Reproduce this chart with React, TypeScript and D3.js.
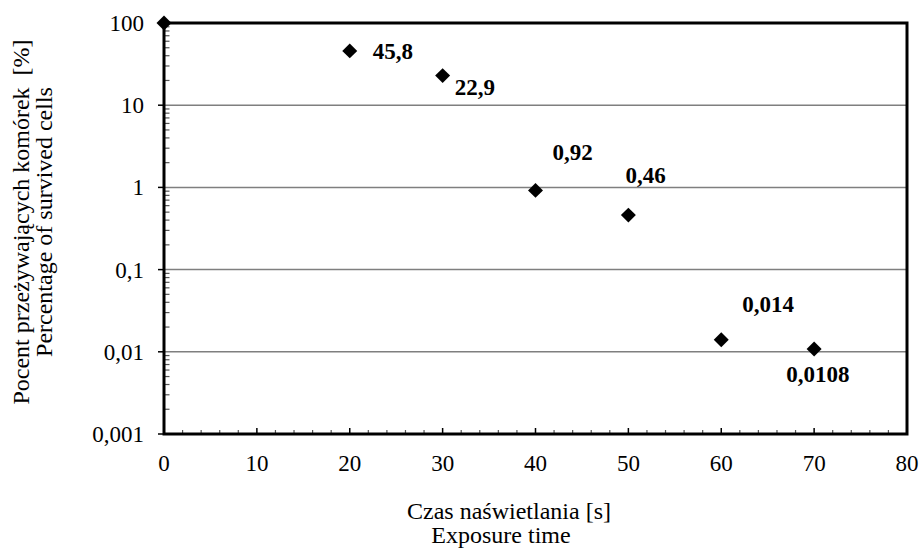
import React from "react";
import * as d3 from "d3";

const times = [0, 20, 30, 40, 50, 60, 70];
const survival = [100, 45.8, 22.9, 0.92, 0.46, 0.014, 0.0108];
const pointLabels = ["", "45,8", "22,9", "0,92", "0,46", "0,014", "0,0108"];
const xTicks = [0, 10, 20, 30, 40, 50, 60, 70, 80];
const yTicks = [0.001, 0.01, 0.1, 1, 10, 100];
const yTickLabels = ["0,001", "0,01", "0,1", "1", "10", "100"];

// label placement relative to the marker (dx, dy to text start/baseline)
const labelOffsets: [number, number][] = [
  [0, 0], [23, 8], [12, 19.5], [17, -30], [-3, -32], [21, -28], [-28, 33],
];

const W = 922, H = 552;
const M = { left: 164, top: 23, right: 907, bottom: 434 };
const FONT = "Liberation Serif, Times New Roman, DejaVu Serif, serif";

export default function App() {
  const x = d3.scaleLinear().domain([0, 80]).range([M.left, M.right]);
  const y = d3.scaleLog().domain([0.001, 100]).range([M.bottom, M.top]);

  const xMinor = d3.range(0, 81, 2).filter((v) => v % 10 !== 0);
  const yMinor: number[] = [];
  for (let e = -3; e < 2; e++) {
    for (let k = 2; k <= 9; k++) yMinor.push(k * Math.pow(10, e));
  }
  const diamond = d3.symbol().type(d3.symbolSquare).size(112)();
  const tStyle = { fontFamily: FONT };

  return (
    <svg
      width={W}
      height={H}
      style={{ position: "absolute", left: 0, top: 0, background: "#fff", fontFamily: FONT }}
    >
      {yTicks
        .filter((v) => v > 0.001 && v < 100)
        .map((v) => (
          <line key={"g" + v} x1={M.left} x2={M.right} y1={y(v)} y2={y(v)} stroke="#7f7f7f" strokeWidth={1.5} />
        ))}
      {yMinor.map((v, i) => (
        <line key={"ym" + i} x1={M.left} x2={M.left + 5.5} y1={y(v)} y2={y(v)} stroke="#555" strokeWidth={1.2} />
      ))}
      {yTicks.map((v) => (
        <line key={"yM" + v} x1={M.left - 6} x2={M.left} y1={y(v)} y2={y(v)} stroke="#000" strokeWidth={1.5} />
      ))}
      {xMinor.map((v) => (
        <line key={"xm" + v} x1={x(v)} x2={x(v)} y1={M.bottom} y2={M.bottom - 4} stroke="#555" strokeWidth={1.2} />
      ))}
      {xTicks.map((v) => (
        <line key={"xM" + v} x1={x(v)} x2={x(v)} y1={M.bottom} y2={M.bottom - 6} stroke="#000" strokeWidth={1.5} />
      ))}
      <rect
        x={M.left}
        y={M.top}
        width={M.right - M.left}
        height={M.bottom - M.top}
        fill="none"
        stroke="#000"
        strokeWidth={3}
      />
      {yTicks.map((v, i) => (
        <text key={"yl" + v} style={tStyle} x={144} y={y(v) + 8} textAnchor="end" fontSize={23}>
          {yTickLabels[i]}
        </text>
      ))}
      {xTicks.map((v) => (
        <text key={"xl" + v} style={tStyle} x={x(v)} y={471} textAnchor="middle" fontSize={23}>
          {String(v)}
        </text>
      ))}
      {times.map((t, i) => (
        <path
          key={"p" + i}
          d={diamond || ""}
          transform={`translate(${x(t)},${y(survival[i])}) rotate(45)`}
          fill="#000"
        />
      ))}
      {times.map((t, i) =>
        pointLabels[i] ? (
          <text
            key={"dl" + i}
            style={tStyle}
            x={x(t) + labelOffsets[i][0]}
            y={y(survival[i]) + labelOffsets[i][1]}
            fontSize={23}
            fontWeight="bold"
          >
            {pointLabels[i]}
          </text>
        ) : null
      )}
      <text style={tStyle} x={509} y={519} textAnchor="middle" fontSize={24}>
        Czas naświetlania [s]
      </text>
      <text style={tStyle} x={501} y={543} textAnchor="middle" fontSize={24}>
        Exposure time
      </text>
      <g transform={`translate(29, 222) rotate(-90)`}>
        <text style={{ ...tStyle, whiteSpace: "pre" }} x={0} y={0} textAnchor="middle" fontSize={24}>
          Pocent przeżywających komórek  [%]
        </text>
        <text style={tStyle} x={0} y={23} textAnchor="middle" fontSize={24}>
          Percentage of survived cells
        </text>
      </g>
    </svg>
  );
}
